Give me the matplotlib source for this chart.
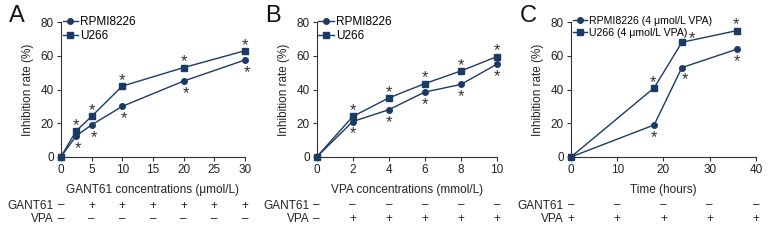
import matplotlib
matplotlib.use('Agg')
import matplotlib.pyplot as plt
import matplotlib.transforms as mtransforms

plt.rcParams['font.family'] = ['Liberation Sans', 'DejaVu Sans']
plt.rcParams['font.size'] = 8

navy = '#1b3a66'

# panel A
a_x = [0, 2.5, 5, 10, 20, 30]
a_rpmi = [0, 12.5, 19, 30, 45, 57.5]
a_u266 = [0, 15.5, 24, 42, 53, 63]
a_ticks = [0, 5, 10, 15, 20, 25, 30]
a_gant = ['–', '+', '+', '+', '+', '+', '+']
a_vpa = ['–', '–', '–', '–', '–', '–', '–']

# panel B
b_x = [0, 2, 4, 6, 8, 10]
b_rpmi = [0, 21, 28, 38.5, 43, 55]
b_u266 = [0, 24, 35, 43.5, 51, 59.5]
b_ticks = [0, 2, 4, 6, 8, 10]
b_gant = ['–', '–', '–', '–', '–', '–']
b_vpa = ['–', '+', '+', '+', '+', '+']

# panel C
c_x = [0, 18, 24, 36]
c_rpmi = [0, 19, 53, 64]
c_u266 = [0, 41, 68, 75]
c_ticks = [0, 10, 20, 30, 40]
c_gant = ['–', '–', '–', '–', '–']
c_vpa = ['+', '+', '+', '+', '+']

fig = plt.figure(figsize=(7.8, 2.4), dpi=100)

panels = [
    dict(rect=[0.078, 0.346, 0.236, 0.562], letter='A', x=a_x, r=a_rpmi, u=a_u266,
         ticks=a_ticks, gant=a_gant, vpa=a_vpa, xlabel='GANT61 concentrations (μmol/L)',
         labels=['RPMI8226', 'U266'], leg_fs=8.5,
         r_star=(1.5, -9), u_star=(0, 4),
         r_off={}, u_off={}),
    dict(rect=[0.406, 0.346, 0.231, 0.562], letter='B', x=b_x, r=b_rpmi, u=b_u266,
         ticks=b_ticks, gant=b_gant, vpa=b_vpa, xlabel='VPA concentrations (mmol/L)',
         labels=['RPMI8226', 'U266'], leg_fs=8.5,
         r_star=(0, -9), u_star=(0, 4),
         r_off={}, u_off={}),
    dict(rect=[0.732, 0.346, 0.237, 0.562], letter='C', x=c_x, r=c_rpmi, u=c_u266,
         ticks=c_ticks, gant=c_gant, vpa=c_vpa, xlabel='Time (hours)',
         labels=['RPMI8226 (4 μmol/L VPA)', 'U266 (4 μmol/L VPA)'], leg_fs=7.6,
         r_star=(0, -9), u_star=(-1, 4),
         r_off={2: (2.5, -9)}, u_off={2: (7, 3)}),
]

for p in panels:
    ax = fig.add_axes(p['rect'])
    ax.plot(p['x'], p['r'], '-o', color=navy, lw=1, ms=4, clip_on=False, zorder=3, label=p['labels'][0])
    ax.plot(p['x'], p['u'], '-s', color=navy, lw=1, ms=4, clip_on=False, zorder=3, label=p['labels'][1])

    for i in range(1, len(p['x'])):
        dx, dy = p['r_off'].get(i, p['r_star'])
        ax.annotate('*', (p['x'][i], p['r'][i]), xytext=(dx, dy), textcoords='offset points',
                    ha='center', va='center', fontsize=12, color='#333333')
        dx, dy = p['u_off'].get(i, p['u_star'])
        ax.annotate('*', (p['x'][i], p['u'][i]), xytext=(dx, dy), textcoords='offset points',
                    ha='center', va='center', fontsize=12, color='#333333')

    ax.set_xlim(p['ticks'][0], p['ticks'][-1])
    ax.set_ylim(0, 80)
    ax.set_xticks(p['ticks'])
    ax.set_yticks([0, 20, 40, 60, 80])
    ax.spines['top'].set_visible(False)
    ax.spines['right'].set_visible(False)
    for s in ['left', 'bottom']:
        ax.spines[s].set_linewidth(0.8)
        ax.spines[s].set_color('#333333')
    ax.tick_params(length=3, width=0.8, labelsize=8.5, pad=2, colors='#333333', labelcolor='#222222')
    ax.set_xlabel(p['xlabel'], fontsize=8.5, labelpad=6, color='#222222')
    ax.set_ylabel('Inhibition rate (%)', fontsize=8.5, labelpad=5, color='#222222')

    ax.legend(loc='upper left', bbox_to_anchor=(0.01, 1.045), frameon=False, fontsize=p['leg_fs'],
              handlelength=1.3, handletextpad=0.2, labelspacing=0.2, borderaxespad=0, borderpad=0)

    trans = ax.get_xaxis_transform()
    for t, g, v in zip(p['ticks'], p['gant'], p['vpa']):
        ax.text(t, -0.36, g, transform=trans, ha='center', va='center', fontsize=8.5, color='#222222')
        ax.text(t, -0.46, v, transform=trans, ha='center', va='center', fontsize=8.5, color='#222222')
    lab = mtransforms.offset_copy(ax.transAxes, fig=fig, x=-7, y=0, units='dots')
    ax.text(0, -0.36, 'GANT61', transform=lab, ha='right', va='center', fontsize=8.5, color='#222222')
    ax.text(0, -0.46, 'VPA', transform=lab, ha='right', va='center', fontsize=8.5, color='#222222')

    fig.text(p['rect'][0] - 0.066, 0.935, p['letter'], fontsize=17, color='#111111', va='center')

fig.savefig('out.png', dpi=100)
